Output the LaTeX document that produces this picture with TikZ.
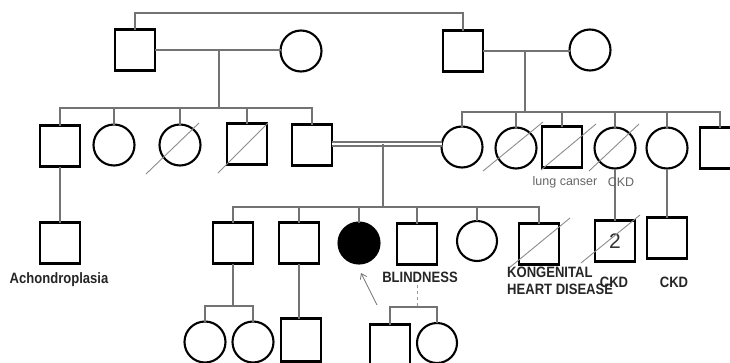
\documentclass[tikz,border=0pt]{standalone}
\usepackage{fontspec}
\setmainfont{Liberation Sans}
\usetikzlibrary{arrows.meta,calc}
\newcommand{\narrowtxt}[1]{\scalebox{0.87}[1]{#1}}
\begin{document}
\begin{tikzpicture}[x=1pt,y=-1pt,
  sq/.style={draw=black,line width=2.1pt,minimum width=40pt,minimum height=41pt,inner sep=0pt,outer sep=0pt},
  ci/.style={draw=black,line width=2.1pt,circle,minimum size=41pt,inner sep=0pt,outer sep=0pt},
  conn/.style={draw=black!55,line width=1.2pt},
  faint/.style={draw=black!40,line width=0.8pt,dashed},
  slash/.style={draw=black!45,line width=0.9pt},
  lab/.style={font=\fontsize{15}{17}\selectfont\bfseries,text=black!85,inner sep=0pt},
  small/.style={font=\fontsize{12.5}{14}\selectfont,text=black!60,inner sep=0pt}]
\useasboundingbox[fill=white] (0,0) rectangle (730,362);
% generation 1
\node[sq] (g1m1) at (135,50) {};
\node[ci] (g1f1) at (301,51) {};
\node[sq] (g1m2) at (463,51) {};
\node[ci] (g1f2) at (590,50) {};
% generation 2
\node[sq] (a) at (60,146) {};
\node[ci] (b) at (114,145) {};
\node[ci] (c) at (180,145) {};
\node[sq] (d) at (247,144) {};
\node[sq] (e) at (312,145) {};
\node[ci] (f) at (462,147) {};
\node[ci] (g) at (516,148) {};
\node[sq] (h) at (562,147) {};
\node[ci] (i) at (615,148) {};
\node[ci] (j) at (667,148) {};
\node[sq] (k) at (720,148) {};
% generation 3
\node[sq] (a1) at (60,243) {};
\node[sq] (l) at (233,243) {};
\node[sq] (m) at (299,243) {};
\node[ci,fill=black] (n) at (359,243) {};
\node[sq] (o) at (417,244) {};
\node[ci,minimum size=40pt] (p) at (477,241) {};
\node[sq] (q) at (539,244) {};
\node[sq,font=\fontsize{21}{21}\selectfont,text=black!80] (r) at (615,241) {2};
\node[sq] (s) at (667,238) {};
% generation 4
\node[ci] (l1) at (205,342) {};
\node[ci] (l2) at (253,342) {};
\node[sq,minimum height=43pt] (m1) at (301,340) {};
\node[sq] (o1) at (390,345) {};
\node[ci,minimum size=40pt] (o2) at (437,343) {};
% connectors
\coordinate (top) at (300,13);
\draw[conn] (g1m1.north) |- (top) -| (g1m2.north);
\draw[conn] (g1m1.east) -- (g1m1.east -| g1f1.west);
\coordinate (mar1) at (219,50);
\coordinate (sib1) at (219,108);
\draw[conn] (mar1) -- (sib1);
\foreach \t in {a,b,c,d,e} \draw[conn] (sib1) -| (\t.north);
\draw[conn] (g1m2.east) -- (g1m2.east -| g1f2.west);
\coordinate (mar2) at (525,51);
\coordinate (sib2) at (525,112);
\draw[conn] (mar2) -- (sib2);
\foreach \t in {f,g,h,i,j,k} \draw[conn] (sib2) -| (\t.north);
\coordinate (mar3) at (383,144);
\coordinate (sib3) at (383,207);
\draw[conn,line width=1.1pt,double=white,double distance=2.9pt] (e.east |- mar3) -- (f.west |- mar3);
\draw[conn] (mar3) -- (sib3);
\foreach \t in {l,m,n,o,p,q} \draw[conn] (sib3) -| (\t.north);
\draw[conn] (a.south) -- (a1.north);
\draw[conn] (i.south) -- (r.north);
\draw[conn] (j.south) -- (s.north);
\coordinate (sib4) at (233,306);
\draw[conn] (l.south) -- (sib4);
\draw[conn] (l1.north) |- (sib4) -| (l2.north);
\draw[conn] (m.south) -- (m.south |- m1.north);
\coordinate (sib5) at (417,307);
\coordinate (sib5top) at (417,285);
\draw[faint] (sib5top) -- (sib5);
\draw[conn] (o1.north) |- (sib5) -| (o2.north);
% arrow
\coordinate (arrtail) at (377,305);
\coordinate (arrhead) at (361,273);
\draw[conn,line width=0.8pt,-{Straight Barb[length=5pt,width=7pt]}] (arrtail) -- (arrhead);
% deceased slashes
\draw[slash] ($(c)+(-34,29)$) -- ($(c)+(19,-22)$);
\draw[slash] ($(d)+(-29,29)$) -- ($(d)+(21,-21)$);
\draw[slash] ($(g)+(-33,23)$) -- ($(g)+(27,-26)$);
\draw[slash] ($(h)+(-21,23)$) -- ($(h)+(34,-23)$);
\draw[slash] ($(i)+(-26,23)$) -- ($(i)+(24,-24)$);
\draw[slash] ($(q)+(-30,24)$) -- ($(q)+(31,-26)$);
\draw[slash] ($(r)+(-34,22)$) -- ($(r)+(25,-26)$);
% labels
\node[lab] (lA) at (59,280) {\narrowtxt{Achondroplasia}};
\node[lab] (lB) at (420,277) {\narrowtxt{BLINDNESS}};
\node[lab,anchor=west,align=left] (lK) at (507,281) {\narrowtxt{KONGENITAL}\\\narrowtxt{HEART DISEASE}};
\node[lab] (lC1) at (614,282) {\narrowtxt{CKD}};
\node[lab] (lC2) at (674,282) {\narrowtxt{CKD}};
\node[small] (lc) at (565,182) {lung canser};
\node[small] (ck) at (621,182) {CKD};
\end{tikzpicture}
\end{document}
